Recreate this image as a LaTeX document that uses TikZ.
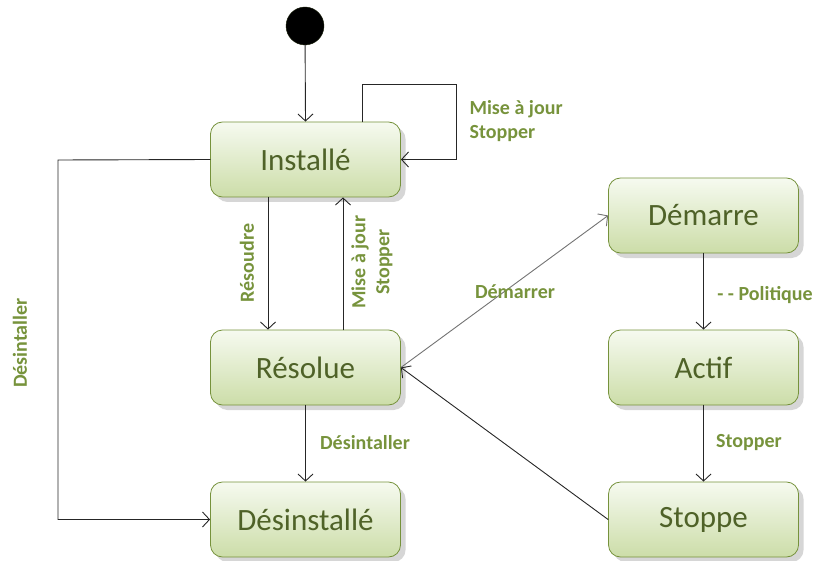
\documentclass[tikz,border=0pt]{standalone}
\usepackage{fontspec}
\setmainfont{Carlito}
\usepackage{tikz}
\usetikzlibrary{arrows.meta,shadows}
\definecolor{olivetext}{RGB}{79,98,40}
\definecolor{olivelabel}{RGB}{119,147,60}
\definecolor{oliveedge}{RGB}{118,146,60}
\definecolor{boxtop}{RGB}{246,250,240}
\definecolor{boxbot}{RGB}{204,221,168}

\begin{document}
\begin{tikzpicture}[x=1pt,y=-1pt,line cap=round,
  state/.style={draw=oliveedge,line width=0.8pt,rounded corners=12pt,
    top color=boxtop,bottom color=boxbot,minimum width=190pt,minimum height=75pt,
    font=\fontsize{31}{37}\selectfont,text=olivetext,
    drop shadow={shadow xshift=5pt,shadow yshift=-5pt,fill=black!32}},
  trans/.style={draw=black!85,line width=0.9pt,-{Straight Barb[length=7pt,width=15pt]}},
  lab/.style={font=\fontsize{20}{24}\bfseries\selectfont,text=olivelabel}]
  \useasboundingbox (0,0) rectangle (818,561);
  % states
  \node[state] (inst) at (305.5,159.5) {Installé};
  \node[state] (res) at (305.5,367.5) {Résolue};
  \node[state] (desinst) at (305.5,519.5) {Désinstallé};
  \node[state] (dem) at (703.5,215.5) {Démarre};
  \node[state] (act) at (703.5,367.5) {Actif};
  \node[state] (stop) at (703.5,519.5) {Stoppe};
  \node[circle,fill=black,draw=black!60!olivetext,minimum size=38pt,inner sep=0pt] (init) at (305,26) {};
  \coordinate (loop) at (456,84);
  \coordinate (left) at (58,160);
  % transitions
  \draw[trans] (init) -- (inst.north);
  \draw[trans] ([xshift=56.5pt]inst.north) |- (loop) |- (inst.east);
  \draw[trans] ([xshift=-37.5pt]inst.south) -- ([xshift=-37.5pt]res.north);
  \draw[trans] ([xshift=37.5pt]res.north) -- ([xshift=37.5pt]inst.south);
  \draw[trans] (inst.west) -- (left) |- (desinst.west);
  \draw[trans] (res.south) -- (desinst.north);
  \draw[trans,draw=black!55] (res.east) -- (dem.west);
  \draw[trans] (stop.west) -- (res.east);
  \draw[trans] (dem.south) -- (act.north);
  \draw[trans] (act.south) -- (stop.north);
  % labels
  \node[lab,anchor=west,align=left] (lloop) at (466,121) {Mise à jour\\Stopper};
  \node[lab,rotate=90] (lres) at (247,263) {Résoudre};
  \node[lab,rotate=90,align=center] (lmaj) at (372,262) {Mise à jour\\Stopper};
  \node[lab,rotate=90] (lleft) at (20,343) {Désintaller};
  \node[lab] (ldes) at (365,443) {Désintaller};
  \node[lab] (ldem) at (515,292) {Démarrer};
  \node[lab] (lpol) at (765,295) {- - Politique};
  \node[lab] (lstop) at (749,443) {Stopper};
\end{tikzpicture}
\end{document}
